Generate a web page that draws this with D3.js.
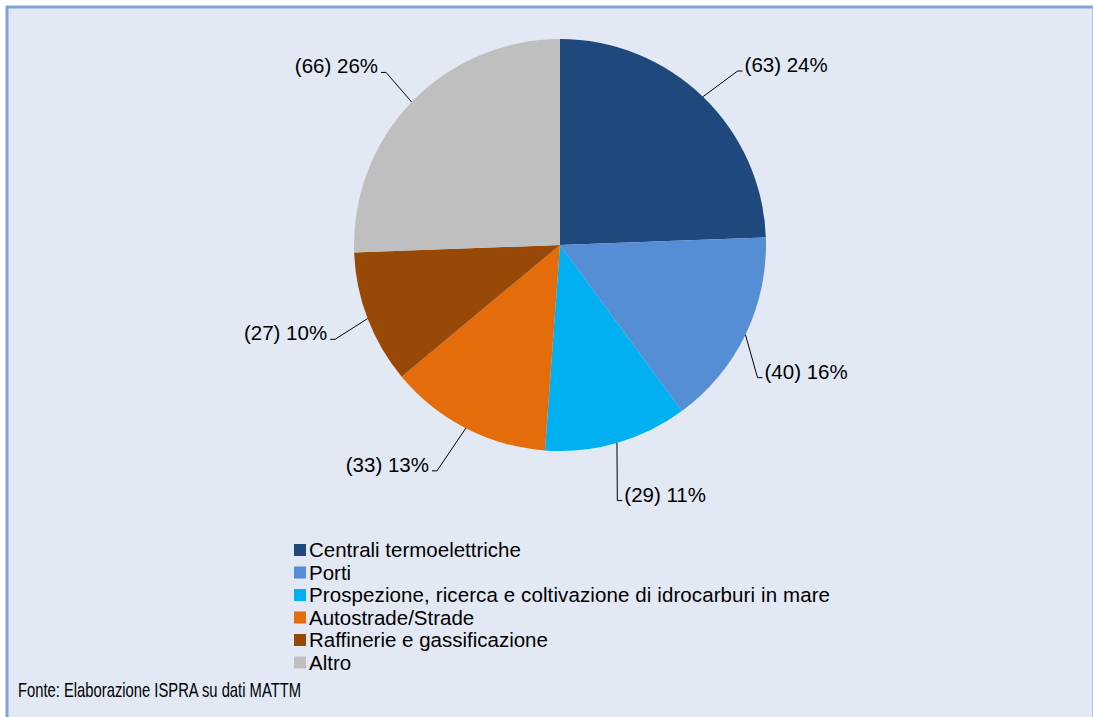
<!DOCTYPE html>
<meta charset="utf-8">
<style>
  body { margin: 0; background: #fff; }
  text { font-family: "Liberation Sans", Arial, sans-serif; fill: #000; }
</style>
<svg width="1093" height="717"></svg>
<script src="https://d3js.org/d3.v7.min.js"></script>
<script>
// categories and counts (from the chart)
var categories = ["Centrali termoelettriche", "Porti", "Prospezione, ricerca e coltivazione di idrocarburi in mare",
                  "Autostrade/Strade", "Raffinerie e gassificazione", "Altro"];
var counts = [63, 40, 29, 33, 27, 66];
var percents = [24, 16, 11, 13, 10, 26];
var colors = ["#1f497d", "#558ed5", "#00b0f0", "#e46c0a", "#984807", "#bfbfbf"];
var source = "Fonte: Elaborazione ISPRA su dati MATTM";

// small nudges so labels sit where excel put them
var labelNudge = [[6, 4], [-25, 25], [-11, 18], [-10, 6], [6, 6], [4, -1]];

var svg = d3.select("svg");
var cx = 560, cy = 245, R = 206;

svg.append("rect")
    .attr("x", 7).attr("y", 7)
    .attr("width", 1087).attr("height", 720)
    .attr("fill", "#e2e9f5")
    .attr("stroke", "#80a4d7")
    .attr("stroke-width", 3);

var pie = d3.pie().sort(null).value(function(d) { return d; });
var arcs = pie(counts);
var arc = d3.arc().innerRadius(0).outerRadius(R);

var g = svg.append("g").attr("transform", "translate(" + cx + "," + cy + ")");

g.selectAll("path")
  .data(arcs)
  .enter().append("path")
    .attr("d", arc)
    .attr("fill", function(d, i) { return colors[i]; });

// leader lines + labels
arcs.forEach(function(d, i) {
  var mid = (d.startAngle + d.endAngle) / 2;
  var x0 = R * Math.sin(mid), y0 = -R * Math.cos(mid);
  var x1 = 1.2 * R * Math.sin(mid) + labelNudge[i][0],
      y1 = -1.2 * R * Math.cos(mid) + labelNudge[i][1];
  var right = Math.sin(mid) > 0;
  var x2 = x1 + (right ? 5 : -5);
  g.append("polyline")
      .attr("points", [[x0, y0], [x1, y1], [x2, y1]].join(" "))
      .attr("fill", "none")
      .attr("stroke", "#000")
      .attr("stroke-width", 1);
  g.append("text")
      .attr("x", x2 + (right ? 2 : -3))
      .attr("y", y1 + 1)
      .attr("text-anchor", right ? "start" : "end")
      .attr("font-size", "20.5px")
      .text("(" + counts[i] + ") " + percents[i] + "%");
});

// legend
var leg = svg.append("g").attr("transform", "translate(294,550)");
var row = leg.selectAll("g")
  .data(categories)
  .enter().append("g")
    .attr("transform", function(d, i) { return "translate(0," + (i * 22.5) + ")"; });

row.append("rect")
    .attr("x", 0).attr("y", -6)
    .attr("width", 12).attr("height", 12)
    .attr("fill", function(d, i) { return colors[i]; });

row.append("text")
    .attr("x", 15).attr("y", 7)
    .attr("font-size", "20.5px")
    .each(function(d, i) {
      if (i === 2) d3.select(this).attr("textLength", 521).attr("lengthAdjust", "spacing");
    })
    .text(function(d) { return d; });

svg.append("text")
    .attr("x", 18).attr("y", 697)
    .attr("font-size", "21px")
    .attr("textLength", 283)
    .attr("lengthAdjust", "spacingAndGlyphs")
    .text(source);
</script>
